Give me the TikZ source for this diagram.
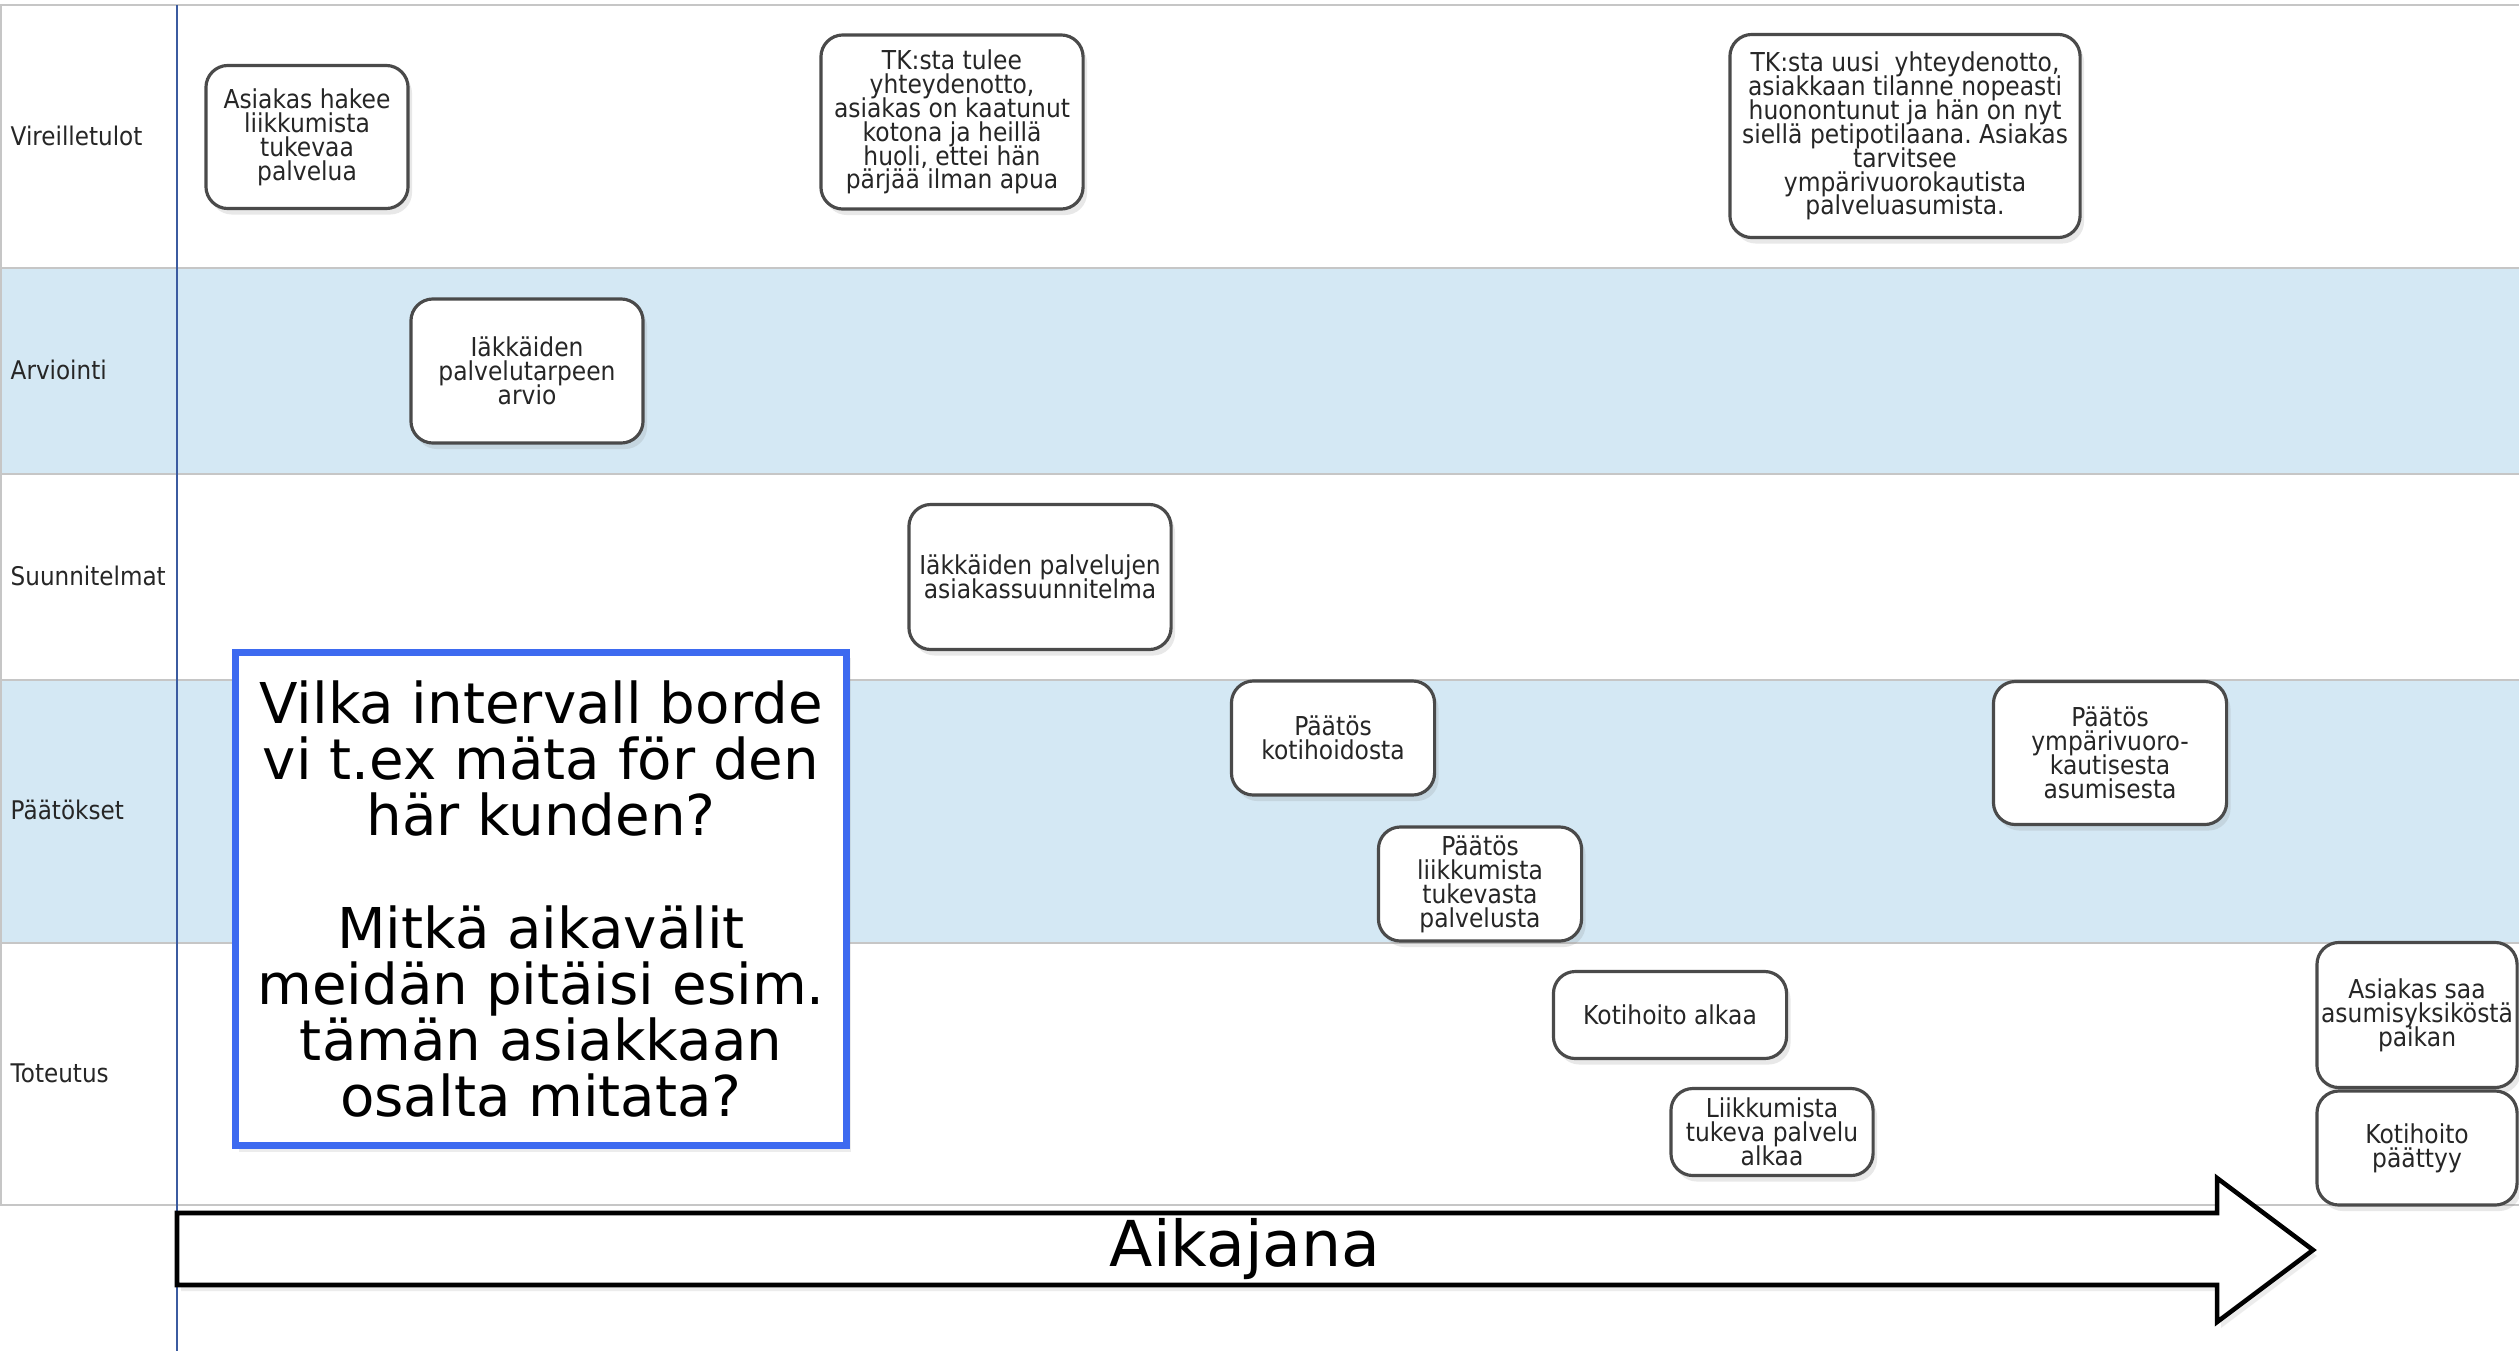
\documentclass[tikz,border=0pt]{standalone}
\usepackage{fontspec}
\setmainfont{DejaVu Sans}
\newfontfamily\boxfont[FakeStretch=0.9]{DejaVu Sans}
\usetikzlibrary{positioning,shadows}
\frenchspacing
\newcommand\eventfont{\boxfont\fontsize{7.4}{6.8}\selectfont\lineskiplimit=-10pt\relax}

\definecolor{lanefill}{HTML}{D4E8F4}
\definecolor{laneline}{HTML}{C6C6C6}
\definecolor{axisblue}{HTML}{3B5BA0}
\definecolor{qblue}{HTML}{3D6AF0}
\definecolor{boxline}{HTML}{4A4A4A}
\definecolor{boxtext}{HTML}{262626}

\begin{document}
\begin{tikzpicture}[x=0.01cm,y=-0.01cm,
    event/.style={draw=boxline,line width=0.9pt,rounded corners=0.22cm,fill=white,
        align=center,inner sep=1pt,text=boxtext,font=\eventfont,
        drop shadow={opacity=0.18,shadow xshift=0.04cm,shadow yshift=-0.06cm}},
    lane/.style={anchor=west,inner sep=0pt,text=boxtext,
        font=\boxfont\fontsize{7.3}{8}\selectfont},
    question/.style={draw=qblue,line width=1.9pt,fill=white,align=center,
        font=\fontsize{16}{16}\selectfont,
        drop shadow={opacity=0.15,shadow xshift=0.04cm,shadow yshift=-0.06cm}},
    timeline/.style={draw=black,line width=1.3pt,fill=white,
        drop shadow={opacity=0.15,shadow xshift=0.04cm,shadow yshift=-0.06cm}}]
                \useasboundingbox (0,0) rectangle (2519,1351);
                % swimlanes
                \fill[white] (0,0) rectangle (2519,1351);
                \fill[lanefill] (0,268) rectangle (2519,474);
                \fill[lanefill] (0,680) rectangle (2519,943);
                \foreach \y in {5,268,474,680,943,1205}
                    \draw[laneline,line width=0.8pt] (0,\y) -- (2519,\y);
                \draw[laneline,line width=0.8pt] (1,5) -- (1,1205);
                \draw[axisblue,line width=0.6pt] (177,5) -- (177,1351);
                \node[lane] (l1) at (10,136) {Vireilletulot};
                \node[lane] (l2) at (10,370) {Arviointi};
                \node[lane] (l3) at (10,576) {Suunnitelmat};
                \node[lane] (l4) at (10,810) {Päätökset};
                \node[lane] (l5) at (10,1073) {Toteutus};
                % events
                \node[event,minimum width=2.02cm,minimum height=1.43cm] (v1) at (307,137) {Asiakas hakee\\liikkumista\\tukevaa\\palvelua};
                \node[event,minimum width=2.62cm,minimum height=1.74cm] (v2) at (952,122) {TK:sta tulee\\yhteydenotto,\\asiakas on kaatunut\\kotona ja heillä\\huoli, ettei hän\\pärjää ilman apua};
                \node[event,minimum width=3.50cm,minimum height=2.03cm] (v3) at (1905,136) {TK:sta uusi\ \ yhteydenotto,\\asiakkaan tilanne nopeasti\\huonontunut ja hän on nyt\\siellä petipotilaana. Asiakas\\tarvitsee\\ympärivuorokautista\\palveluasumista.};
                \node[event,minimum width=2.32cm,minimum height=1.44cm] (a1) at (527,371) {Iäkkäiden\\palvelutarpeen\\arvio};
                \node[event,minimum width=2.62cm,minimum height=1.45cm] (s1) at (1040,577) {Iäkkäiden palvelujen\\asiakassuunnitelma};
                \node[event,minimum width=2.03cm,minimum height=1.14cm] (p1) at (1333,738) {Päätös\\kotihoidosta};
                \node[event,minimum width=2.03cm,minimum height=1.14cm] (p2) at (1480,884) {Päätös\\liikkumista\\tukevasta\\palvelusta};
                \node[event,minimum width=2.33cm,minimum height=1.43cm] (p3) at (2110,753) {Päätös\\ympärivuoro-\\kautisesta\\asumisesta};
                \node[event,minimum width=2.33cm,minimum height=0.87cm] (t1) at (1670,1015) {Kotihoito alkaa};
                \node[event,minimum width=2.02cm,minimum height=0.87cm] (t2) at (1772,1132) {Liikkumista\\tukeva palvelu\\alkaa};
                \node[event,minimum width=2.00cm,minimum height=1.45cm] (t3) at (2417,1015) {Asiakas saa\\asumisyksiköstä\\paikan};
                \node[event,minimum width=2.00cm,minimum height=1.14cm] (t4) at (2417,1148) {Kotihoito\\päättyy};
                % question
                \node[question,minimum width=6.11cm,minimum height=4.93cm] (q) at (541,899) {Vilka intervall borde\\vi t.ex mäta för den\\här kunden?\\~\\Mitkä aikavälit\\meidän pitäisi esim.\\tämän asiakkaan\\osalta mitata?};
                % time axis
                \draw[timeline] (177,1213) -- (2217,1213) -- (2217,1178) -- (2313,1250) -- (2217,1322) -- (2217,1285) -- (177,1285) -- cycle;
                \node[font=\fontsize{18}{18}\selectfont] (aika) at (1245,1249) {Aikajana};
            \end{tikzpicture}
\end{document}
